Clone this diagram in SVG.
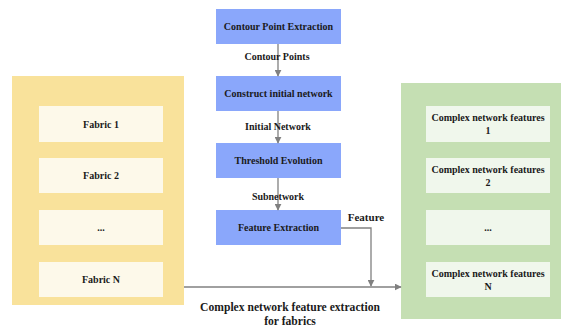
<svg xmlns="http://www.w3.org/2000/svg" width="561" height="328" viewBox="0 0 561 328">
<style>
text{font-family:'Liberation Serif','Times New Roman',Times,serif;font-weight:bold;font-size:10px;fill:#1a1a1a;text-anchor:middle}
.l{font-size:11px}
.b{font-size:11.6px}
.blue{fill:#8aa7fb}
.yin{fill:#fdf9ea}
.gin{fill:#f0f7ec}
.c{stroke:#808080;stroke-width:1.3;fill:none}
</style>
<defs>
<marker id="a" viewBox="0 0 10 10" refX="9" refY="5" markerWidth="7" markerHeight="7" orient="auto" markerUnits="userSpaceOnUse">
<path d="M0,0 L10,5 L0,10 z" fill="#808080"/>
</marker>
</defs>
<rect width="561" height="328" fill="#fff"/>
<g id="fabrics">
<rect x="12" y="76" width="172" height="229" fill="#f9e29b"/>
<g id="fabric1"><rect class="yin" x="39" y="106" width="124" height="36"/><text x="101" y="127.5">Fabric 1</text></g>
<g id="fabric2"><rect class="yin" x="39" y="158" width="124" height="35"/><text x="101" y="179">Fabric 2</text></g>
<g id="fabricdots"><rect class="yin" x="39" y="210" width="124" height="35"/><text x="101" y="231">...</text></g>
<g id="fabricN"><rect class="yin" x="39" y="262" width="124" height="35"/><text x="101" y="283">Fabric N</text></g>
</g>
<g id="features">
<rect x="401" y="83" width="160" height="236" fill="#c5dfb3"/>
<g id="feat1"><rect class="gin" x="426" y="106" width="124" height="36"/><text x="488" y="121">Complex network features</text><text x="488" y="134">1</text></g>
<g id="feat2"><rect class="gin" x="426" y="158" width="124" height="35"/><text x="488" y="173">Complex network features</text><text x="488" y="186">2</text></g>
<g id="featdots"><rect class="gin" x="426" y="210" width="124" height="35"/><text x="488" y="231">...</text></g>
<g id="featN"><rect class="gin" x="426" y="262" width="124" height="35"/><text x="488" y="277">Complex network features</text><text x="488" y="290">N</text></g>
</g>
<g id="n1"><rect class="blue" x="216" y="9" width="125" height="35"/><text x="278.5" y="30">Contour Point Extraction</text></g>
<g id="n2"><rect class="blue" x="216" y="76" width="125" height="35"/><text x="278.5" y="97">Construct initial network</text></g>
<g id="n3"><rect class="blue" x="216" y="143" width="125" height="35"/><text x="278.5" y="164">Threshold Evolution</text></g>
<g id="n4"><rect class="blue" x="216" y="210" width="125" height="35"/><text x="278.5" y="231">Feature Extraction</text></g>
<g id="connectors">
<line class="c" x1="278" y1="44" x2="278" y2="76" marker-end="url(#a)"/>
<line class="c" x1="278" y1="111" x2="278" y2="143" marker-end="url(#a)"/>
<line class="c" x1="278" y1="178" x2="278" y2="210" marker-end="url(#a)"/>
<polyline class="c" points="341,228 371,228 371,286" marker-end="url(#a)"/>
<line class="c" x1="184" y1="287" x2="401" y2="287" marker-end="url(#a)"/>
</g>
<g id="labels">
<text x="277" y="60">Contour Points</text>
<text x="278" y="130">Initial Network</text>
<text x="278" y="200">Subnetwork</text>
<text class="l" x="366" y="221">Feature</text>
<text class="b" x="290" y="311">Complex network feature extraction</text>
<text class="b" x="290" y="325">for fabrics</text>
</g>
</svg>
